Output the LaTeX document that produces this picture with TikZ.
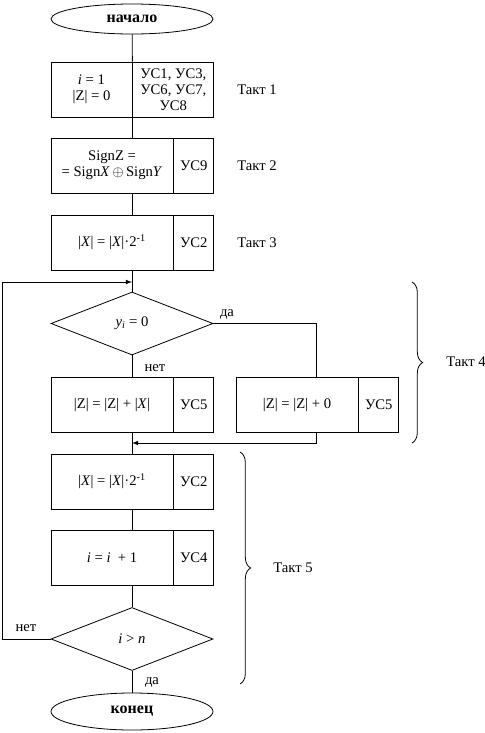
\documentclass[tikz,border=0pt]{standalone}
\usepackage{fontspec}
\setmainfont{Liberation Serif}
\usepackage{tikz}
\usetikzlibrary{shapes.geometric, arrows, decorations.pathreplacing, calc}
\tikzstyle{term} = [ellipse, draw, minimum width=121.5pt, inner sep=0pt, font=\fontsize{12pt}{13pt}\selectfont\bfseries]
\tikzstyle{opbox} = [rectangle, draw, minimum height=41.25pt, minimum width=91.5pt, inner sep=1pt, align=center]
\tikzstyle{usbox} = [rectangle, draw, minimum height=41.25pt, minimum width=30pt, inner sep=1pt, align=center, anchor=west]
\tikzstyle{cond} = [diamond, draw, minimum width=121.5pt, minimum height=47.25pt, inner sep=0pt]
\tikzstyle{arrow} = [->, >=latex]
\tikzstyle{brace} = [decorate, decoration={brace, amplitude=8pt}]

\begin{document}
\begin{tikzpicture}[x=0.75pt, y=-0.75pt, line width=0.6pt,
    every node/.append style={font=\fontsize{11pt}{12pt}\selectfont}]
            \useasboundingbox (0,0) rectangle (485,733);
            \node[term, minimum height=22.5pt] (start) at (132,19) {начало};
            \node[opbox, minimum width=60.75pt] (b1l) at (91.5,89.5) {\textit{i} = 1\\|Z| = 0};
            \node[usbox, minimum width=60.75pt] (b1r) at (b1l.east) {УС1, УС3,\\УС6, УС7,\\УС8};
            \node[opbox] (b2l) at (112,165.5) {SignZ =\\= Sign\textit{X}\,$\oplus$\,Sign\textit{Y}};
            \node[usbox] (b2r) at (b2l.east) {УС9};
            \node[opbox] (b3l) at (112,242.5) {|\textit{X}| = |\textit{X}|·2\textsuperscript{-1}};
            \node[usbox] (b3r) at (b3l.east) {УС2};
            \node[cond] (d1) at (132,323.5) {\textit{y}\textsubscript{\textit{i}} = 0};
            \node[opbox] (b4l) at (112,404.5) {|Z| = |Z| + |\textit{X}|};
            \node[usbox] (b4r) at (b4l.east) {УС5};
            \node[opbox] (b4a) at (297,404.5) {|Z| = |Z| + 0};
            \node[usbox] (b4b) at (b4a.east) {УС5};
            \node[opbox] (b5l) at (112,481.5) {|\textit{X}| = |\textit{X}|·2\textsuperscript{-1}};
            \node[usbox] (b5r) at (b5l.east) {УС2};
            \node[opbox] (b6l) at (112,557.5) {\textit{i} = \textit{i}\ \ + 1};
            \node[usbox] (b6r) at (b6l.east) {УС4};
            \node[cond] (d2) at (132,639) {\textit{i} > \textit{n}};
            \node[term, minimum height=27.75pt] (stop) at (132,711.5) {конец};

            \coordinate (m1) at (132,282);
            \coordinate (r4) at (316,377);
            \coordinate (m2) at (132,443);

            \draw (start) -- (b1l.north east);
            \draw (b1l.south east) -- (b1l.south east |- b2l.north);
            \draw (b2l.south -| start) -- (b3l.north -| start);
            \draw (b3l.south -| start) -- (d1.north);
            \draw[arrow] (d2.west) -- ++(-48,0) |- (m1);
            \draw (d1.south) -- (b4l.north -| d1);
            \draw (d1.east) -| (r4);
            \draw[arrow] (r4 |- b4a.south) |- (m2);
            \draw (b4l.south -| m2) -- (b5l.north -| m2);
            \draw (b5l.south -| start) -- (b6l.north -| start);
            \draw (b6l.south -| start) -- (d2.north);
            \draw (d2.south) -- (stop.north);

            \node (yes1) at (227,314) {да};
            \node (no1) at (155,368) {нет};
            \node (no2) at (26,628) {нет};
            \node (yes2) at (152,682) {да};

            \node (t1) at (257,90) {Такт 1};
            \node (t2) at (257,166) {Такт 2};
            \node (t3) at (257,243) {Такт 3};
            \draw[brace] (412,282) -- (412,443);
            \node (t4) at (466,362) {Такт 4};
            \draw[brace] (240,452) -- (240,684);
            \node (t5) at (293,568) {Такт 5};
            % \draw[dashed] (0,0) rectangle (485,733);
\end{tikzpicture}
\end{document}
